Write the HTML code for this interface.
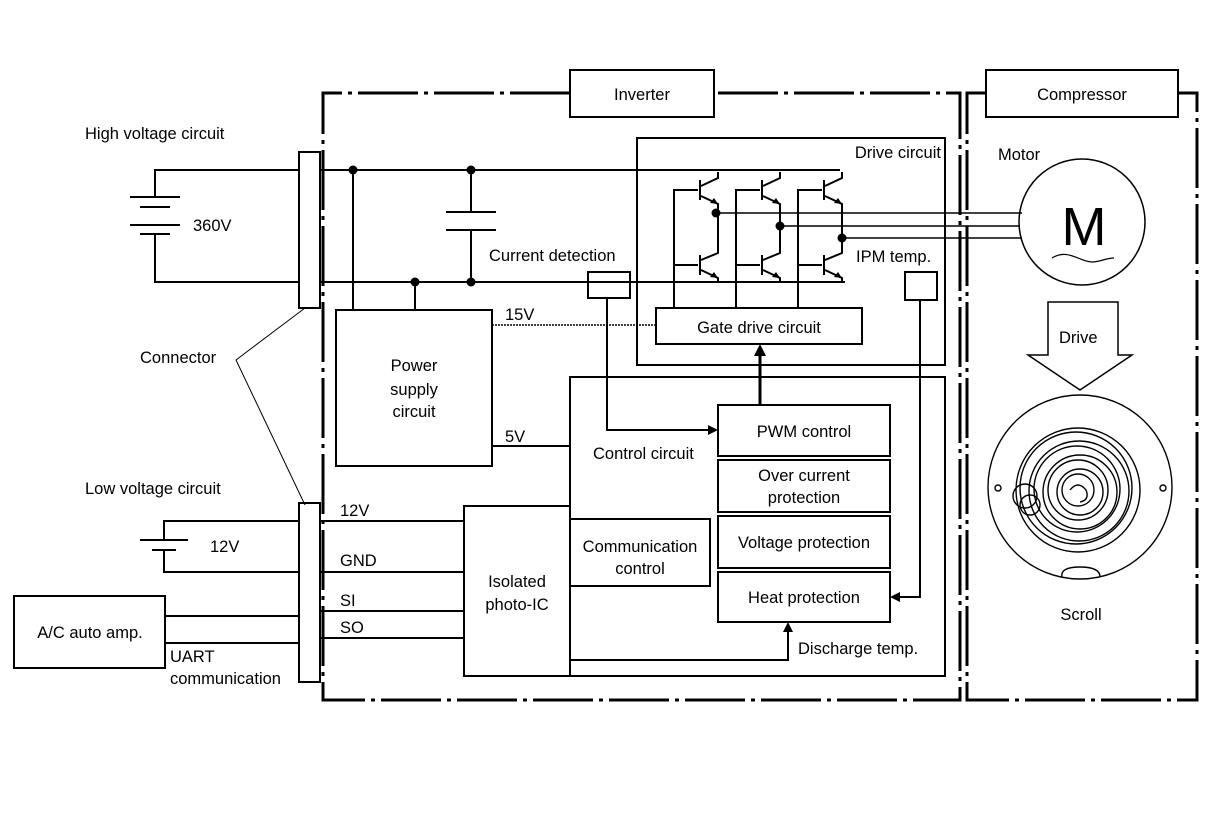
<!DOCTYPE html>
<html><head><meta charset="utf-8"><style>
html,body{margin:0;padding:0;background:#fff;}
svg{display:block;}
text{font-family:"Liberation Sans",Arial,sans-serif;font-size:16.5px;fill:#000;}
</style></head><body>
<svg width="1216" height="822" viewBox="0 0 1216 822" xmlns="http://www.w3.org/2000/svg">
<g fill="none" stroke="#000">
<g stroke-width="3" stroke-dasharray="60 6 4 6">
<path d="M570 93 H323 V700 H960 V93 H714"/>
<path d="M986 93 H967 V700 H1197 V93 H1178"/>
</g>
<g stroke-width="2">
<rect x="570" y="70" width="144" height="47"/>
<rect x="986" y="70" width="192" height="47"/>
<rect x="299" y="152" width="21" height="156"/>
<rect x="299" y="503" width="21" height="179"/>
<path d="M299 170 H155 V197 M155 234 V282 H299"/>
<path d="M320 170 H840 M320 282 H845"/>
<path d="M130 197 H180 M140 207 H170 M130 225 H180 M140 234 H170"/>
<path d="M471 170 V212 M446 212 H496 M446 230 H496 M471 230 V282"/>
<path d="M353 170 V310 M415 282 V310"/>
<rect x="336" y="310" width="156" height="156"/>
<rect x="637" y="138" width="308" height="227"/>
<rect x="656" y="308" width="206" height="36"/>
<rect x="588" y="272" width="42" height="26"/>
<rect x="905" y="272" width="32" height="28"/>
<rect x="570" y="377" width="375" height="299"/>
<rect x="718" y="405" width="172" height="51"/>
<rect x="718" y="460" width="172" height="52"/>
<rect x="718" y="516" width="172" height="52"/>
<rect x="718" y="572" width="172" height="50"/>
<rect x="570" y="519" width="140" height="67"/>
<rect x="464" y="506" width="106" height="170"/>
<path d="M320 521 H464 M320 572 H464 M320 611 H464 M320 638 H464"/>
<path d="M299 521 H164 V540 M164 550 V572 H299"/>
<path d="M140 540 H188 M152 550 H176" stroke-width="2"/>
<rect x="14" y="596" width="151" height="72"/>
<path d="M165 616 H299 M165 643 H299"/>
<path d="M492 446 H570"/>
<path d="M607 298 V430 H710"/>
<path d="M920 300 V597 H898"/>
<path d="M570 660 H788 V630"/>
<path d="M760 405 V354" stroke-width="3"/>
</g>
<path d="M492 325 H656" stroke-width="1.5" stroke-dasharray="2 1"/>
<path d="M305 308 L236 360 L305 505" stroke-width="1"/>
<!-- IGBTs -->
<g stroke-width="2">
<path d="M718 172 V178 L701 186 M701 196 L718 204 V253 L701 260 M701 270 L718 278 V282"/>
<path d="M780 172 V178 L763 186 M763 196 L780 204 V253 L763 260 M763 270 L780 278 V282"/>
<path d="M842 172 V178 L825 186 M825 196 L842 204 V253 L825 260 M825 270 L842 278 V282"/>
<path d="M674 308 V190 H698 M674 265 H698 M736 308 V190 H760 M736 265 H760 M798 308 V190 H822 M798 265 H822"/>
<path d="M700 180 V200 M700 255 V275 M762 180 V200 M762 255 V275 M824 180 V200 M824 255 V275"/>
</g>
<g stroke-width="1.5">
<path d="M716 213 H1022 M780 226 H1020 M842 238 H1022"/>
</g>
<circle cx="1082" cy="222" r="63" stroke-width="1.5"/>
<path d="M1052 258 C1068 248 1080 262 1092 262 C1100 262 1106 258 1114 258" stroke-width="1.2"/>
<path d="M1048 302 H1118 V355 H1132 L1080 390 L1028 355 H1048 Z" stroke-width="1.5"/>
<g stroke-width="1.4">
<circle cx="1080" cy="487" r="92"/>
<circle cx="998" cy="488" r="3"/>
<circle cx="1163" cy="488" r="3"/>
<path d="M1062 577 Q1060 567 1080 567 Q1100 567 1100 577"/>
<circle cx="1078" cy="490" r="62"/>
<circle cx="1076" cy="488" r="56"/>
<circle cx="1079" cy="491" r="50"/>
<circle cx="1077" cy="489" r="43"/>
<circle cx="1080" cy="492" r="37"/>
<circle cx="1078" cy="490" r="30"/>
<circle cx="1080" cy="492" r="23"/>
<circle cx="1078" cy="490" r="16"/>
<path d="M1070 490 Q1078 480 1086 490 Q1090 500 1080 502"/>
<circle cx="1025" cy="496" r="12"/>
<circle cx="1030" cy="505" r="10"/>
</g>
</g>
<g fill="#000">
<circle cx="353" cy="170" r="4.5"/><circle cx="471" cy="170" r="4.5"/>
<circle cx="415" cy="282" r="4.5"/><circle cx="471" cy="282" r="4.5"/>
<circle cx="716" cy="213" r="4.5"/><circle cx="780" cy="226" r="4.5"/><circle cx="842" cy="238" r="4.5"/>
<path d="M718 430 L708 425 L708 435 Z"/>
<path d="M890 597 L900 592 L900 602 Z"/>
<path d="M788 622 L783 632 L793 632 Z"/>
<path d="M760 344 L754 356 L766 356 Z"/>
<path d="M718 204 L710 203 L714 198 Z M718 278 L710 277 L714 272 Z M780 204 L772 203 L776 198 Z M780 278 L772 277 L776 272 Z M842 204 L834 203 L838 198 Z M842 278 L834 277 L838 272 Z"/>
</g>
<text x="642" y="100" text-anchor="middle">Inverter</text>
<text x="1082" y="100" text-anchor="middle">Compressor</text>
<text x="85" y="139">High voltage circuit</text>
<text x="193" y="231">360V</text>
<text x="140" y="363">Connector</text>
<text x="85" y="494">Low voltage circuit</text>
<text x="210" y="552">12V</text>
<text x="90" y="638" text-anchor="middle">A/C auto amp.</text>
<text x="170" y="662">UART</text>
<text x="170" y="684">communication</text>
<text x="340" y="516">12V</text>
<text x="340" y="566">GND</text>
<text x="340" y="606">SI</text>
<text x="340" y="633">SO</text>
<text x="517" y="587" text-anchor="middle">Isolated</text>
<text x="517" y="610" text-anchor="middle">photo-IC</text>
<text x="414" y="371" text-anchor="middle">Power</text>
<text x="414" y="395" text-anchor="middle">supply</text>
<text x="414" y="417" text-anchor="middle">circuit</text>
<text x="505" y="320">15V</text>
<text x="505" y="442">5V</text>
<text x="489" y="261">Current detection</text>
<text x="941" y="158" text-anchor="end">Drive circuit</text>
<text x="856" y="262">IPM temp.</text>
<text x="759" y="333" text-anchor="middle">Gate drive circuit</text>
<text x="804" y="437" text-anchor="middle">PWM control</text>
<text x="593" y="459">Control circuit</text>
<text x="804" y="481" text-anchor="middle">Over current</text>
<text x="804" y="503" text-anchor="middle">protection</text>
<text x="804" y="548" text-anchor="middle">Voltage protection</text>
<text x="804" y="603" text-anchor="middle">Heat protection</text>
<text x="640" y="552" text-anchor="middle">Communication</text>
<text x="640" y="574" text-anchor="middle">control</text>
<text x="798" y="654">Discharge temp.</text>
<text x="998" y="160">Motor</text>
<text x="1084" y="245" text-anchor="middle" style="font-size:54px">M</text>
<text x="1059" y="343">Drive</text>
<text x="1081" y="620" text-anchor="middle">Scroll</text>
</svg>
</body></html>
